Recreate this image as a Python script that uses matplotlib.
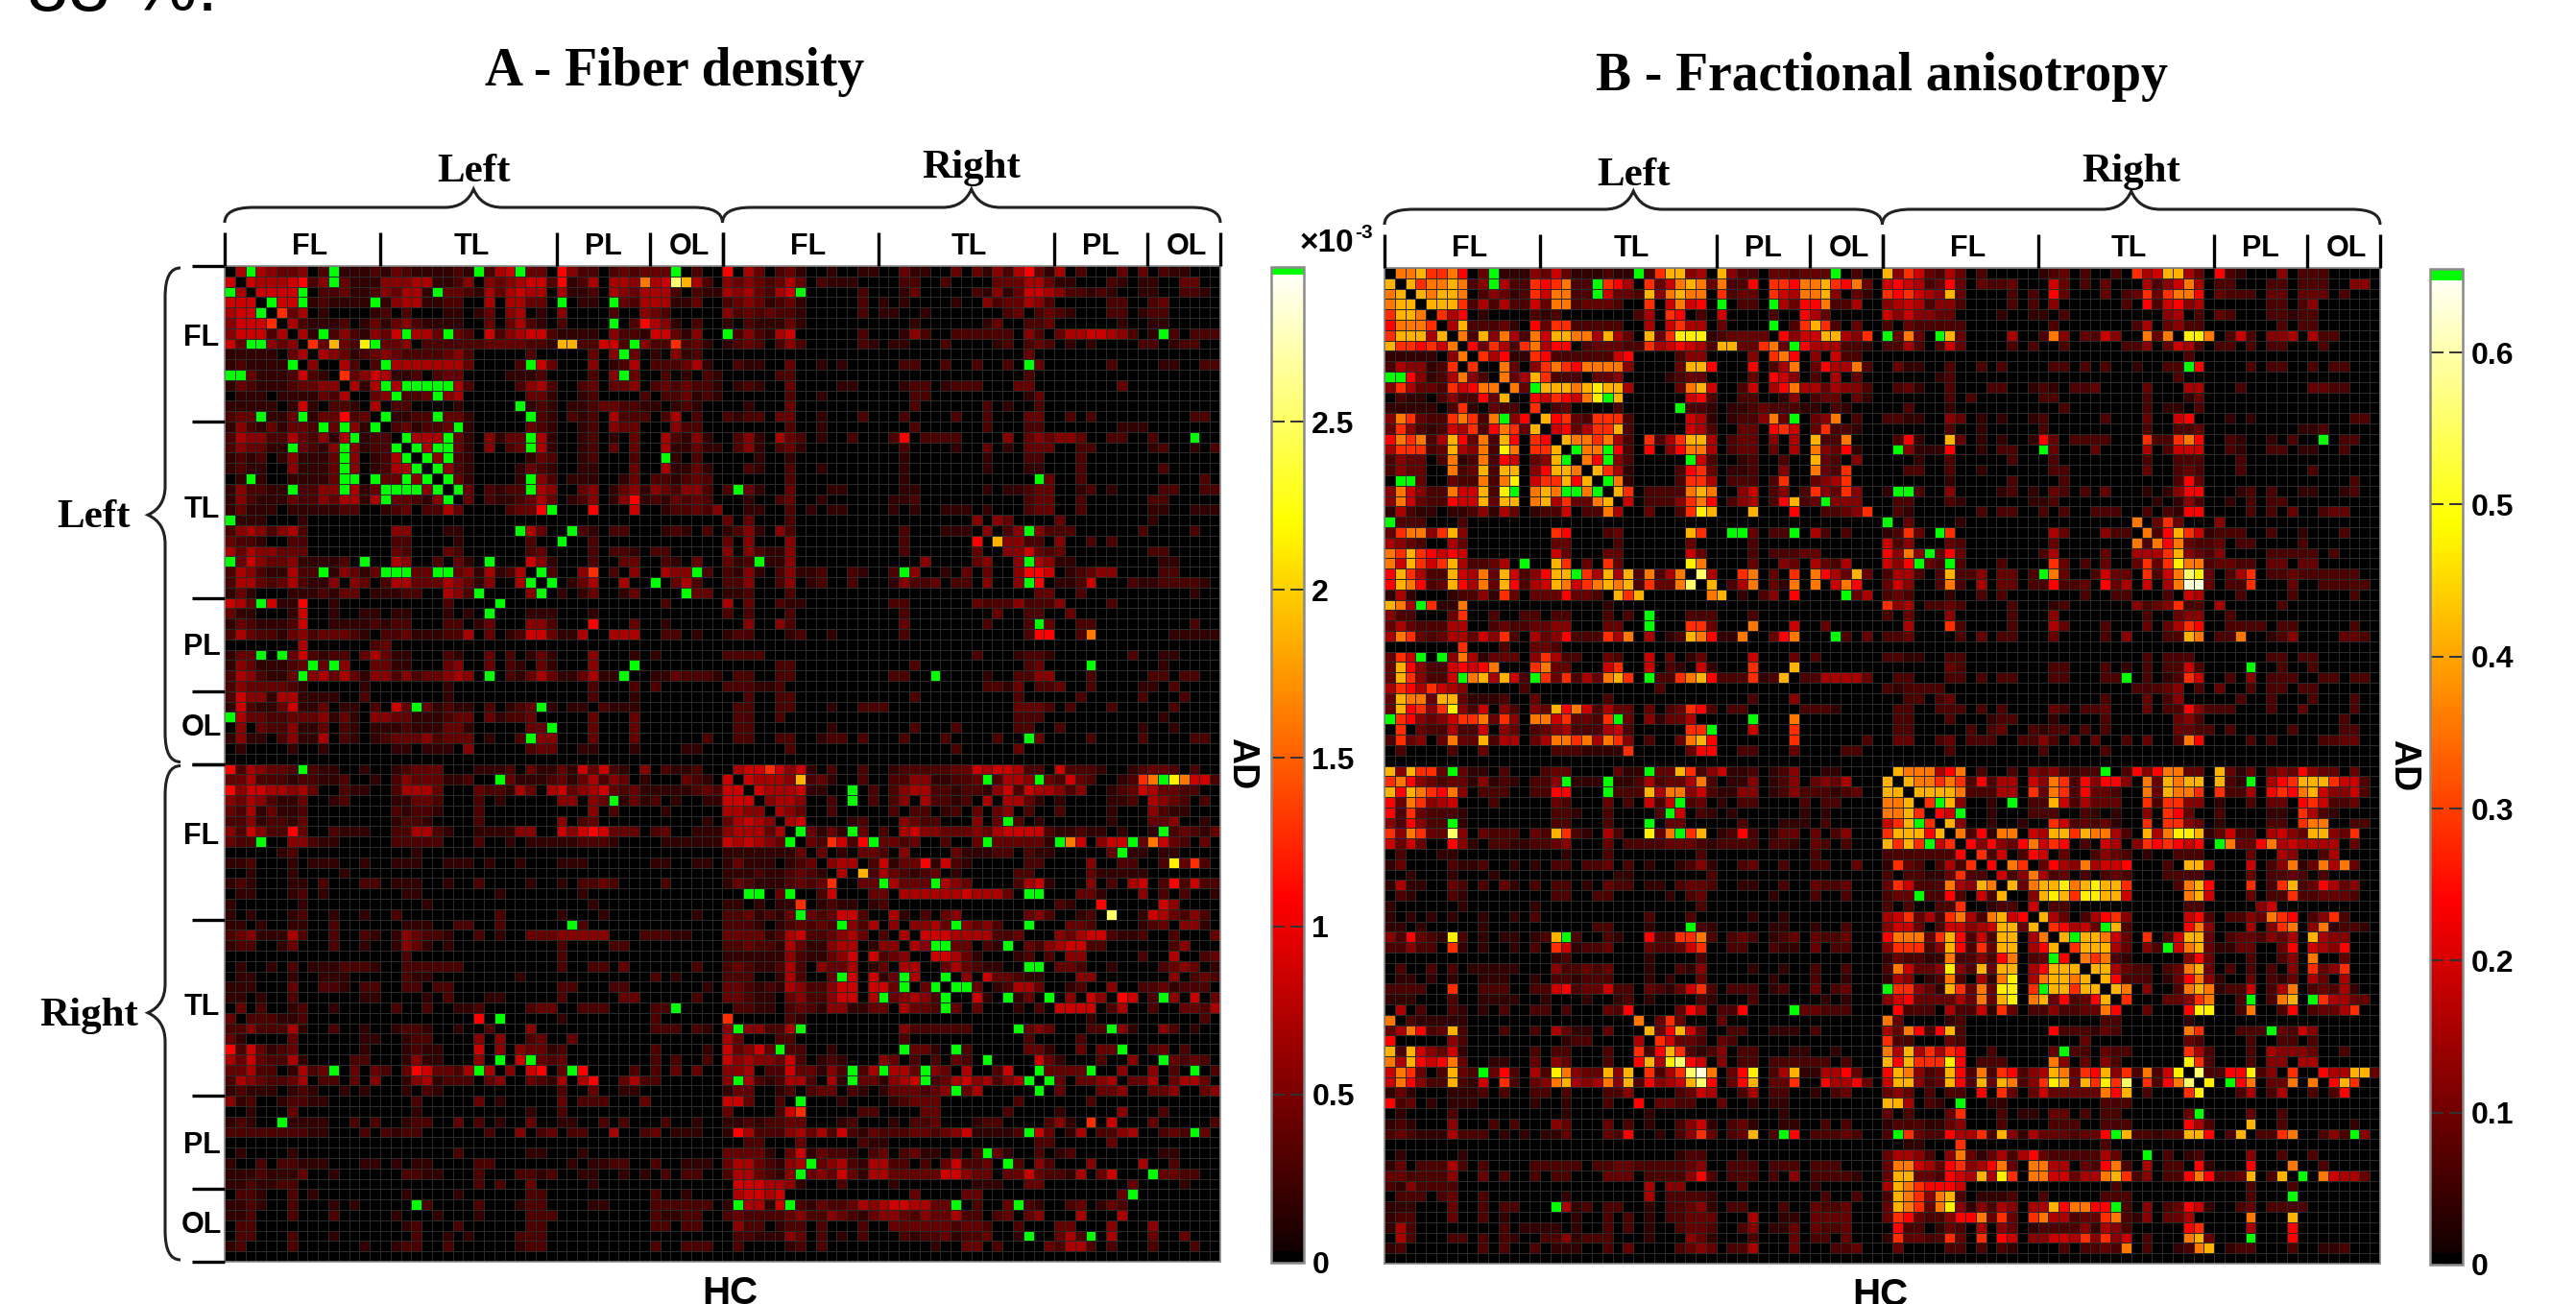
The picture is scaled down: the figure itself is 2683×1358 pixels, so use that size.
import numpy as np
import matplotlib
matplotlib.use("Agg")
import matplotlib.pyplot as plt
from matplotlib.colors import ListedColormap, Normalize
from matplotlib.cm import ScalarMappable
from matplotlib.path import Path
from matplotlib.patches import PathPatch

W, H = 2683, 1358

# Cell levels: 0 black, 1-6 dark to strong red, 7 pure red,
# 8 red-orange, 9 orange, a amber, b yellow, c pale yellow, d near white, G green.
A_TL = """
05G54334 02G11121 32111121 G256G330 74220232 333G0200
60655567 24G31114 44551124 04345662 71250554 956ca520
G506666G 02231124 3551G332 15356550 51120543 55520211
6660G66G 121111G1 45511220 05055330 G0110G32 55511300
566G0835 01000012 02000110 13045010 40000200 43200000
46668052 11120131 34211110 03035210 20000G02 75410200
46662505 1G242143 6G553G32 06245662 11110422 16631400
63GG4340 83a32bG3 34022222 23333221 aa22662G 42282310
11111035 05431234 32222342 00000200 000304G3 01041200
121111G0 4005202G 55555553 00002G63 00040125 02223510
GG311126 21083465 11202330 00011120 000204G3 00201021
13211123 3440515G 5GGGGG52 00002452 00230334 02323221
01110111 13250034 G223G450 00000331 00120000 20223121
11111016 10221050 22000010 0000G121 01123322 11012100
233G113G 1337230G 1122G331 00000G21 02120522 20250200
14213133 2G3G41G0 231223G1 00000321 00120433 00042200
25442253 2415G122 0G555G31 04133G51 00120103 00521410
243311G3 214G4122 G0G5GG31 04023G51 00120303 00511311
12120141 113G4012 5G0G4G21 00000132 00120002 00G10200
12110041 113G4012 55G0G421 00001321 00110003 00511310
01G10011 113GG0G3 3G4G0G31 00001G42 01110013 02212320
142211G2 244G513G GGG4G0G3 02122G54 00340134 14324420
14211132 2435515G 33214G03 02112353 01240147 12132320
13111011 11122001 23022530 0002337G 00070006 00122324
G1110001 00000000 00000000 00000000 00000000 00000000
24542452 00000000 44000110 0000G530 0G210220 00121020
32210022 00000000 22000010 00000200 G0020000 00000000
53544333 00000000 32000320 00000230 00020221 02200000
G3643341 11120G00 54002031 0G000641 00020033 00210300
25421152 2G14313G GG33GG34 151250G2 00480204 00544G20
25532352 11404302 55333543 14005G0G 01350050 0G035200
13100011 12133011 12200542 G00004G0 10130013 0000G330
653G6117 00100000 00000200 00G00000 00000000 00200000
31100016 00100110 11000101 0G000111 00010000 00000000
13211126 00111121 22000220 13000442 00070003 00100000
25322134 23332102 23111225 03012663 11500555 00220100
00000005 00000023 00000000 00000000 00000000 00000000
133G0G36 21220353 11000210 03020131 00040001 01000000
14311123 G3G40033 11000340 03021031 0004000G 00000000
2542113G 45353144 24233454 0G021353 113511G0 01132221
24333321 00000100 00000100 00000000 00020002 02000000
26441551 11100200 00000100 00000000 00020001 00000000
16211361 13011020 63G31211 020123G1 01102111 00000000
G5332233 34131044 33111233 03122300 00030003 00000000
04032241 13021011 12111331 0000033G 00030003 00000000
14110241 15021012 33342333 01002G44 00030003 00000020
01000010 01000000 11011104 00000233 00110001 00001100
00000000 00000000 00000000 00000000 00000000 00000000
"""

A_TR = """
70530231 00100110 03110030 31425731 50200030 30211000
43432353 02111000 02200200 00333553 11000210 11003300
5453256G 00000200 01300000 21413665 42212100 11002210
23431231 00000201 01000010 04233542 00000220 02300000
42323221 00000201 10010000 00023023 21000220 12200000
10211131 00000000 00100000 01300223 00000010 01100000
G2421560 00000200 01420022 22220420 35566542 01G20222
12320242 00000210 11000200 00120232 01010000 22012200
00000000 00000000 00000000 00000300 00000000 00000000
02110030 01010000 02200200 20020G30 00000200 00110022
00000220 00000000 00000000 00000200 00000000 00000000
01210030 00011000 01220122 20003300 00000030 00000000
00000020 01000000 00220000 00000130 00000000 00000000
00100030 00000000 00200000 02010020 00000000 00000000
21220330 01000200 02000020 02000330 02020000 00000220
00000020 01000000 00200000 02000220 00000011 10000000
02410532 01002000 27022220 00040343 44300220 02000G00
02410231 00000000 02000010 03010333 00220000 01200102
00010010 00000000 01000000 01000220 00200000 00000000
00210020 01000000 01000000 01000110 00200000 00200000
00000020 00000000 01000000 000000G3 00200000 00000020
2G310030 00110000 01100000 01011233 00120100 00220022
00100230 01000000 11200000 00000233 00200000 02200000
00110020 10110000 10100111 01000233 00200000 01100111
30300020 00000000 00000000 40430000 30000000 01000000
12410420 00000000 02000111 04024G42 22000000 20000200
30400040 00000000 02000000 70a44220 40020200 00000000
40421140 00000000 02000000 30044632 30000000 02200000
312G1140 00000000 00040000 34004G54 11000000 00110000
21410241 12002100 2G400103 03004776 01234400 00220000
22400240 12002000 14223022 04004G70 11260002 11222210
11200020 00000000 00000000 00000033 00200000 00000100
50300211 00000000 22000000 32224222 40000200 00000000
20200020 00000000 02000000 00300220 03000000 00000000
00400420 00000000 03000000 020002G3 00220000 00000200
12200012 00100000 02000000 00000277 00290000 00011111
00000000 00000000 00000000 00000000 00000000 00000000
22220000 00000000 00000000 20001221 00000002 00110000
00000220 00000000 00200000 00000230 000G0000 00100000
02200220 00000000 2200G000 01002244 00020000 02202200
22211200 00000000 00000000 02213022 30020000 11020000
00200220 00000000 00200000 00002000 00200000 20002000
02200220 00100222 00000000 00003332 02000200 00020000
02200200 00000000 00000000 00002220 00000000 00100000
02200000 00100000 00200020 00002200 20000000 10010000
02200220 01220200 02000200 00200G30 00020000 20000220
00000020 00000000 00000020 00003000 00000000 00000000
00000000 00000000 00000000 00000000 00000000 00000000
"""

A_BL = """
7254332G 21100100 12333000 11120311 31636210 40211200
33522212 21120010 24333112 00G31112 31352430 10003210
74665545 30021100 25553000 32215305 63456323 11111232
43542113 00120000 11332000 20100000 44043G13 12010011
32513112 00000000 21221000 20000000 00040200 00100000
22412213 00000000 12210000 20000000 40230000 00000010
42642273 00211100 22552100 11114400 64676333 02300111
322G0044 21100000 22222000 20010111 11222100 00111111
00000120 00000000 00100000 00000000 00000000 00000000
11200010 11100100 11100111 01001000 11100000 01100110
00100010 00010000 00000000 00000000 00000000 00000000
12100011 02000220 11100100 20000100 10223200 00200000
01100012 01000000 01100000 00100000 00100000 00000000
10000001 00000000 00010000 00000000 00010000 00000000
10100012 00100100 20000000 00200000 10001000 00000100
11010011 00200000 01110022 00200000 0G200000 00000000
23411152 00200210 14322100 20100333 44444000 22211000
12200130 00200100 14310100 00000000 20000220 00000000
00000000 00000000 02000000 00000000 20000000 00000000
01001020 11122210 02222220 00000000 20022030 00000200
01100010 01110000 02110000 00001000 00000000 02010000
11100030 02210220 02202200 00000000 22000220 00000010
11010020 00000110 00010200 01100000 20000033 00000200
03020012 00100000 20020011 20000233 00222000 022G0000
30222112 00000000 00000000 70G00000 10000000 02000000
22422251 00200100 12210010 02000400 00000000 02220210
31000030 00000110 01220000 40400230 03000000 00000000
72631230 00000100 01211000 60404331 20000000 02000010
53632251 00002200 01411000 40G06G32 30000000 02020020
33522015 23G03032 03763325 G5040670 3G700002 02030300
25432235 02203040 01451222 03400321 50570035 22000000
12111012 10010100 01021000 00000000 20030011 00000000
41200122 11000000 00200000 30100000 30222000 30000000
00100030 00000000 00100000 00000100 20000000 00000000
12100G11 11002020 01220030 20100300 11002020 00200100
22222222 11000202 12200000 02004023 02200500 23011100
00000000 00000000 00000000 00000000 00000000 00000000
01000010 00000000 00000020 00000110 00100000 00000000
10020221 11000110 10110000 22000000 01011220 02001110
11121113 00100000 02211000 20002212 00110010 10202200
11211220 00000000 00000000 20200300 00010000 00000000
02210020 10000000 01000010 00000220 00000000 02001000
11210020 00101000 00G20000 20001220 00011000 02222220
11200020 00200000 10001000 10000222 00000000 02112200
02200000 00000000 01200020 00000220 00000000 02202200
02200020 00100000 00200101 00002220 00000000 00000000
12000020 00000100 12200200 00001220 00000000 02002220
00000000 00000000 00000000 00000000 00000000 00000000
"""

A_BR = """
05665847 10200200 12222233 75665220 72221001 23320200
60655549 23100200 22441122 3G25545G 27320012 459aGba2
66065557 1100G020 24552212 21462655 42400123 65332200
66604554 0020G020 24052212 05055310 10000112 05432020
55440543 00200000 20220120 30340200 20000100 04211000
35654056 00001200 04322000 40G52010 00000100 03340010
45553507 G1311G02 05644333 43566662 11211010 0132G213
65654306 G2082073 G2300200 G3333331 0G904662 G5932030
11111113 03010G32 04000031 11220211 00000G21 10110000
13111012 30455027 13321721 00000220 00040022 002c3820
11121123 21150925 32123010 00002200 00031111 10000000
13211123 23070G32 533G4543 00002561 00040205 60222722
00GG0G20 02600033 05555556 55530000 00GG1000 40202001
11010118 01211012 00000000 00000000 21000000 00740000
22312135 G2366240 51020340 00000342 00120000 1c532420
22210123 232G4252 40445354 G4200000 0G320000 12304410
33331256 22345G02 25066655 55223000 43566211 20020003
22322153 11455014 40544GG3 02100G24 56622000 00024000
11111142 11346062 34506653 10001202 04400000 20050023
23211252 04335013 05540G53 21100000 GG200100 00234301
22200152 003G6061 30500G04 06G32110 00440000 00040232
33212154 22466066 3G0GGGG0 30125530 01200400 22312220
33211034 22466052 G45423G0 61021G00 040640G0 02040603
02211023 21441133 0533233G 30001020 66600250 02003325
80000021 00000000 00000000 00000000 00010000 00000020
4G442252 00000000 04222222 00000G43 00022G41 00420100
53000220 00000000 02000000 00200200 00200000 00000000
63463G22 00100000 00G310G2 00000331 00303G20 02302000
64544362 01210004 30202032 0G000063 10002004 00032G20
44502263 3142G25G 55G24305 00270G03 33G10040 04020402
4G521255 20515G31 45662G56 45245660 G0334503 35035530
13300120 23302101 3332344G 50000040 G0003340 03340034
7630020G 00010000 12333000 00002000 00020000 00000000
30000289 00000220 00033000 00020000 13000040 00200000
11212233 00012000 10223000 12200002 41000700 03000002
17522245 35272132 22332346 11112G63 01502245 00232G30
00220003 00000211 00000000 00000022 00000300 00000000
33331037 13221023 02311020 22G10020 12000300 00110000
35532145 G3452155 22020362 230G2042 00040000 50020000
25532145 G4363155 33333664 33033632 2150360G 06332200
06665541 00020000 10000000 11100330 00000003 00001000
05665600 00000000 00G00003 30000000 000000G0 00000000
1G5516G2 13223545 66553G20 200G3210 02301320 00000000
23222234 22432134 43243352 20230340 00500050 00000000
04220122 02000200 33333323 32002000 33000400 04000000
02211143 02010200 02122312 23001000 G5200500 0G003000
02000012 02000000 00001003 30200003 25520200 02000200
00000000 00000000 00000000 00000000 00000000 00000000
"""

# Exact positions (row, column) of the green cells in the lower-right block of panel A
A_BR_GREEN = [(1, 25), (1, 30), (1, 42), (2, 12), (3, 12), (5, 27), (6, 7), (6, 12), (6, 42), (7, 6), (7, 14),
              (7, 25), (7, 32), (7, 39), (8, 38), (11, 15), (11, 20), (12, 2), (12, 3), (12, 6), (12, 29), (12, 30),
              (14, 7), (15, 11), (15, 22), (15, 29), (17, 20), (17, 21), (17, 27), (19, 29), (19, 30), (20, 11),
              (20, 17), (21, 17), (20, 21), (21, 20), (21, 22), (21, 23), (22, 15), (22, 21), (22, 27), (22, 31),
              (22, 42), (23, 21), (25, 1), (25, 7), (25, 28), (25, 37), (27, 5), (27, 17), (27, 22), (27, 38),
              (28, 25), (28, 42), (29, 12), (30, 12), (29, 15), (29, 19), (30, 19), (29, 30), (29, 35), (29, 45),
              (30, 1), (30, 29), (30, 31), (31, 22), (31, 30), (32, 7), (35, 29), (35, 45), (37, 25), (38, 8),
              (38, 27), (39, 7), (39, 41), (41, 39), (42, 1), (42, 6), (42, 22), (42, 28), (45, 29), (45, 35)]
# Bright cells (row, column, level) of the same block
A_BR_HOT = [(0, 4, "8"), (1, 7, "a"), (1, 40, "8"), (1, 41, "9"), (1, 43, "b"), (1, 44, "9"), (7, 10, "8"),
            (7, 13, "7"), (7, 33, "9"), (7, 41, "9"), (9, 19, "7"), (9, 43, "b"), (9, 45, "8"), (10, 13, "a"),
            (11, 10, "8"), (11, 43, "7"), (13, 7, "8"), (13, 36, "7"), (14, 37, "c"), (22, 38, "7"), (22, 39, "6"),
            (23, 35, "6"), (24, 0, "8"), (32, 0, "6"), (32, 1, "6"), (33, 7, "8"), (34, 35, "8"), (35, 1, "7")]

B_TL = """
099a8897 03G11143 63111211 G28aa450 a4220332 333G0200
a0a899a9 24G52287 8922G875 08369a93 92270887 99a87930
9a0a9aa9 02431286 9922G633 2a49a990 82330865 99a40310
9aa0aaa8 25252263 99233320 08069670 G0220G53 77922500
8aa90857 01000021 20000000 25087020 60000200 75300000
7999805a 22231073 88222220 05068550 30000G02 8a820300
8aaa5a09 2a495296 aa995a53 0a38bbb1 23333074 66aa5480
a8878690 73852895 77023332 28567652 aa33893G 75552210
11111049 08571187 22222267 00002440 00040897 04062200
25441280 80093048 98799994 00003aa7 00070259 03755920
GG741259 420935a8 22203340 00012330 00030764 02050300
48533286 799093Ga aa9abaa5 000039a6 00260579 55354420
02110242 273a0076 8769bGa0 00000672 00220014 02330310
11111028 10322080 23000020 0000G221 01123222 11021000
49832289 829G470a 78328882 00000651 012249 3G 03490200
38421265 827983a0 67358 8a2 00000652 00330786 03822100
798925a7 392a7087 0a998952 08258aa5 02330405 0a229000
58882 3a5 492b9088 a0G99G72 07047995 02330305 09437100
24330291 29276034 aG097G42 00000G62 00120020 0a320400
24330092 3a2aa047 aa90a851 00002783 01120040 09328000
0GG30032 2929b068 8a7a0G91 00002885 02220280 03458000
49642296 6a2bG09a 9GG9G0a8 022229a9 00460240 28438400
49632276 6a3aa09a 58339a06 02224897 0245027a 23G44400
15211011 24153012 26022950 030028ba 000a0007 00223480
G2220002 00000000 00000000 00000000 00000000 00000000
389948a4 00000000 87000230 00000a80 0GG3022G 05202000
54320053 00000000 33000020 00000300 00020000 00000000
98a87676 00000000 63000330 00000630 00020222 33000000
96a868a5 22350G00 a8030830 00000b90 00030043 05325000
7a8522a6 593a6247 aaG85a5a 29259 0c5 00890308 09753a30
7a9723a7 593a7256 a9689a9a 28339c0a 02590319 09069700
15100012 24183033 373320a8 a0000009 a0102407 0000G350
a95G8119 00000000 00000100 00000000 00000000 00000000
42200038 00200220 22000202 0G000222 00020000 00000000
35322255 00232233 44000330 0G000883 00090006 00300000
59832355 36482053 47222859 05012a97 11900379 000G2030
00000008 00020033 20000000 00000000 00000000 00000000
386G0G49 51333048 52200320 06030130 00060003 02000000
3a742267 67900089 33000680 06021061 0008000a 00000000
3a84226G 9a5a62G8 38253 9a8 0G2289a7 2228 12a0 22555530
58758654 00000200 00000000 00200000 00000000 00000000
3a993aa3 11120030 00000200 00000000 00020004 00000000
3a7848b4 26042043 a7962533 03023872 02200000 22210000
G8743468 89384099 6833 28G3 04133500 000G0009 00000000
08032252 26043023 45222562 00000 88G 00060008 00000000
28340393 3a255035 99895984 02003 9a7 00000008 00000020
02000020 03000000 22211118 00000377 00220003 00002200
00000000 00000000 00000000 00000000 00000000 00000000
"""

B_TR = """
a4863253 02000001 23020020 856aa530 72100040 22200000
67652373 03223000 63020300 05246950 22000220 22200440
87865 4a3 00002020 73000302 38389970 32220330 33302000
45652442 00002020 40000002 07267450 00000220 24000000
64644330 00010011 02000000 00045020 32000221 22000000
20322222 00000000 20000000 25034220 00000020 22000000
G393 0Ga3 00005002 94032640 09390bb9 02620445 05220000
22520263 00002020 02000002 24036520 22020220 00200000
00000000 00000000 00000000 00000200 00000000 00000000
03110020 02020000 22020200 10022G70 00020220 02022000
00000120 00000000 00000000 00002000 00000000 00000000
02310020 00220012 10223000 03000550 00200000 03322000
00000020 20000002 20000000 02000130 00000000 00000000
00200010 00000000 02000000 02011020 00000000 00000000
22110043 01010012 00000200 03006700 01010000 00000220
00000020 01000002 00000000 02002230 00000000 11200000
0271 00a3 01010017 30222200 08228970 02100102 00G02200
0G411170 01022 00G 30003000 05026660 02100220 11002000
00010020 00002000 20000000 02002220 00200000 00000000
00220020 01000000 22000000 03002320 00200000 02000000
00000010 00002000 02000000 00002730 00000000 00000200
1GG20040 00012010 32020300 01014770 00120200 11001200
02200021 00000011 20000000 00101420 01020220 00000000
02100000 02022002 02002220 02021770 00020203 00233000
G0300001 00000000 00000000 90383000 40000000 00000000
12830G80 00000000 53000422 09 27a861 22200200 10002000
62400032 00000000 30000000 92979322 30220000 20000000
7494G373 00000002 50000300 5558a432 40000222 22020000
647G32G2 00020000 83020300 3838b992 33220330 33000000
2552 02a2 24033 02G 93002633 08269cb3 02580223 22222200
36400292 05033022 72230735 06059dd3 02280003 00222220
23200010 02020000 00020022 00020650 00200002 00000200
84502232 00002000 12000000 42348220 50000020 00000000
20300040 00002000 40000000 02003440 02000000 00000000
00500082 00002000 53000200 03035870 02222022 00000200
22300002 03022000 30000204 00022a90 22900124 00003320
00000000 00000000 00000000 00000000 00000000 00000000
22110022 00000000 00000000 02022200 00000220 22000000
00000032 00000000 22000201 02022620 000G0020 02000000
02200022 02022000 2200022G 02012860 02040222 00220220
21222200 00000000 00000000 22234020 30020220 22000000
00220230 00000000 00000200 03024000 00200200 02000200
02200222 02020000 32022300 03022742 22000200 30000200
02200020 00122000 10000200 00003420 00000000 00002000
02200000 20230021 22020200 00003322 02000002 00002200
03300230 22200224 20303002 03002970 00020200 00223300
00000020 00000002 00000200 00000000 00000000 00000000
00000000 00000000 00000000 00000000 00000000 00000000
"""

B_BL = """
a4a883G3 11020002 33000031 1G33a824 61120124 00110000
89743233 14121022 4G111G11 25233592 01140124 03435000
a7a98794 02220022 77000G22 2a599462 11440124 22212300
73984560 00200000 32000302 0626G230 10220000 20220000
72832221 00000000 22100200 002G6021 01000000 10100000
4274 22G1 00000000 22000200 0G033000 00200011 10200000
8498 33c4 03222032 a8210520 0b39G8a0 12720133 03024000
63630074 10221122 34000302 22233321 22220221 03202000
02000110 00000000 01000200 00000020 00000000 02000000
13000021 12001010 22022302 01001241 00230020 02200300
00100010 00100000 00000011 00000002 00000000 00000000
15110032 02031020 22010322 01102332 00110020 03223000
02100021 00000000 22002200 00010230 00000100 02002000
10000001 00000010 00000000 00000020 00000000 00000000
10101010 01001020 00000000 02000200 00010010 00000000
11010000 01000000 00002200 01000G21 00000110 01002000
427321b2 01011012 aG200210 07228892 02320123 03223000
22422081 01001020 86122300 03223680 02200211 03022000
00000000 00000000 12000000 01000020 00000000 00000000
02002020 11111000 42232300 01002140 00010010 02002000
01101010 01110010 22122200 01010030 00000100 02001000
22220080 02220022 67233622 03213682 02220120 03023000
11100020 01111001 00010012 01000021 00020000 00101000
05020021 01020022 02000327 00003750 2270000G 33222000
90211111 00000000 00000000 90383000 30000000 00000000
359723a2 00020020 53110300 0a37a630 02200111 02000000
70000042 00000000 01220000 50863320 32000000 00000000
a2a64361 00000020 22000200 827a8212 40220001 10010000
95a76793 00110030 43000200 7a5bc760 40220222 22202000
6983 02a3 2G372052 b9433a4a 08258cd9 037b025a 11557300
6974 22a2 16082034 9a54594a 27456ac7 037a0338 00755730
13100011 12020022 02000224 00002365 00250220 01023000
72301011 10000010 01000200 70332200 30010110 00000000
01000020 00000000 01000000 01000000 00000010 00000000
12100040 00202000 43000302 01002461 02310011 00202000
23211152 22010101 13000327 00102483 023a02G7 02223200
00000000 00000000 00000000 00000000 00000000 00000000
01000001 00000000 00000000 00001220 00100000 00000000
13022252 02000022 22202233 22222340 02220222 02220000
33222240 03020020 22000333 02222472 02220204 02222100
21422220 00000000 00000000 05044000 00200000 01000000
02220230 02000000 01000000 05022221 00000000 00200200
11100030 02022000 G5120220 01022341 02200020 03223000
12200030 02010000 00100202 01022333 00050011 03333000
15200000 00020111 10100202 01002332 00240113 03223000
05200022 02021002 24122200 01000431 00020003 02203000
12000000 02020020 11100203 00002343 02250003 00022300
00000000 00000000 00000000 00000000 00000000 00000000
"""

B_BR = """
0a999579 02002043 42122G02 74799330 a3130343 74330300
a0a99898 27255064 98274774 093a9aa0 a21G0578 aaa86620
aa0aaaa9 22255083 98273320 093a9980 82250787 9a644620
99a08Ga4 0010G022 a6253330 08288440 10020330 78622300
99a8076G 00100022 20021010 04087300 20000110 85210000
68aG80a4 00100100 86232310 08088430 10000220 89900220
8aaa7a09 27199065 aa8a9952 0a59bba1 36220564 3aa43800
a8a8G680 74743796 87020650 48787670 G9337956 55550300
22222227 08260276 03002432 01002220 00030054 00250000
18320252 80709803 75495667 00020aa5 00060249 13959300
20221138 22062495 23020232 00022220 00030223 20200000
38622295 4a90a39a ab9abaa8 000029a7 0008028a 23753400
233G2272 062a004a ba8bbaa6 000009a6 00030228 22333200
20200228 00122060 22000000 00000220 00004600 00000000
56835289 529a670a 53025784 00000672 02243987 02482000
46630266 456aa3a0 87563Ga2 00000794 00050489 04912210
799938a7 262aa059 0aGaa963 08026aa3 02332435 0a544000
488824a7 283aa057 a08aaa53 042G69a3 11330037 06547000
13221192 24279023 G7098921 00000473 00020024 09003000
296334b4 2a3aa057 aaa0aa53 220239a3 02020204 08348000
15401292 0519b059 aa9a0a72 22013794 10030213 05305000
G88431a8 393bb08G aa8aa0a9 040029a9 12260259 02325100
46733335 393ab09a 37237a08 00033489 002G029a 0G855330
07222052 26183022 42233970 030007bb 00290027 02335800
93000012 00000000 00000220 00000100 00000000 00000000
539727a2 00000000 72221320 00000980 00222G32 64000000
82200032 00000000 00030000 00000320 00020022 02000000
95a58587 00200000 3G220322 00000852 00020544 43002000
a7a888b7 02220000 94030420 00000b82 00020440 55000000
7a9423a7 29287245 a9387a48 2926b0c2 277b2408 00755aa3
6aa423a7 2a3a9248 ba3a8b8c 08279c0b 0G790339 0907a800
34302022 07083036 3333397a 020008b0 00250250 02027000
aa50210G 00110000 00000222 00000000 00000000 00000000
30200038 00020110 33020220 000003G0 00030020 00000000
12221134 00020000 22200222 00000752 000a0020 00000100
2G832275 582a4153 332337Ga 22122aa7 02a02289 00242G40
00110008 00000000 00000200 00000000 00000000 00000000
35542049 31352573 22222530 0G020120 00040020 02000000
39965378 45793099 55032792 05022071 00070009 00200000
3aa33276 5a5b8099 663559a8 24022797 223a02a0 G0965530
5a987776 00000000 00000020 00000000 00020002 00000000
2a9849a2 01112002 00000222 00000000 0002000G 00000000
3a9839b4 14254055 a79977G2 04023761 00230222 20000000
38732247 79383089 55233892 14033500 0009000a 00000000
07220132 05043012 22241542 00000780 00050007 00000000
18332283 08076044 66584846 02000 9a3 000G0007 00000000
03000022 02021000 02022329 02001 29a 01220002 00112000
00000000 00000000 00000000 00000000 00000000 00000000
"""

LEVELS = {"0": 0.0, "1": 0.06, "2": 0.10, "3": 0.14, "4": 0.19, "5": 0.24, "6": 0.29,
          "7": 0.365, "8": 0.43, "9": 0.54, "a": 0.63, "b": 0.72, "c": 0.85, "d": 0.96, "G": 1.0}

A_TICKS = [0, 0.5, 1, 1.5, 2, 2.5]
A_TICKLABELS = ["0", "0.5", "1", "1.5", "2", "2.5"]
A_VMAX = 2.96
B_TICKS = [0, 0.1, 0.2, 0.3, 0.4, 0.5, 0.6]
B_TICKLABELS = ["0", "0.1", "0.2", "0.3", "0.4", "0.5", "0.6"]
B_VMAX = 0.655

LOBE_EDGES = [0, 15, 32, 41, 48]
LOBE_NAMES = ["FL", "TL", "PL", "OL"]
# Small offsets of the printed lobe names, as seen in the picture
TOP_NAME_SHIFT = [8, 3, 0, 3]
LEFT_NAME_SHIFT = [-6, 0, 3, 0]


def parse(block):
    rows = [ln.replace(" ", "") for ln in block.strip().splitlines()]
    rows = (rows + ["0" * 48] * 48)[:48]
    return np.array([[LEVELS.get(c, 0.0) for c in r.ljust(48, "0")[:48]] for r in rows])


def parse_a_br():
    m = parse(A_BR)
    m[m >= 1.0] = LEVELS["3"]
    m[m > LEVELS["6"]] = LEVELS["6"]
    for r, c, lev in A_BR_HOT:
        m[r, c] = LEVELS[lev]
    for r, c in A_BR_GREEN:
        m[r, c] = 1.0
    for i in range(48):
        m[i, i] = 0.0
    return m


def make_cmap(green_frac):
    base = plt.get_cmap("hot")(np.linspace(0, 1, 512))
    base[0:6] = (0, 0, 0, 1)
    base[int(round((1 - green_frac) * 512)):] = (0, 1, 0, 1)
    return ListedColormap(base)


fig = plt.figure(figsize=(W / 100, H / 100), dpi=100, facecolor="white")


def px_axes(x0, y0, x1, y1, **kw):
    return fig.add_axes([x0 / W, 1 - y1 / H, (x1 - x0) / W, (y1 - y0) / H], **kw)


ov = px_axes(0, 0, W, H)
ov.set_xlim(0, W)
ov.set_ylim(H, 0)
ov.axis("off")
ov.set_zorder(5)

SANS = "Liberation Sans"
SERIF = "Liberation Serif"
CURVE = [Path.MOVETO, Path.CURVE3, Path.CURVE3, Path.LINETO, Path.CURVE3, Path.CURVE3,
         Path.CURVE3, Path.CURVE3, Path.LINETO, Path.CURVE3, Path.CURVE3]


def hbrace(xa, xb, ybase, yline, ytip):
    xm = (xa + xb) / 2
    v = [(xa, ybase), (xa, yline), (xa + 30, yline), (xm - 30, yline), (xm - 8, yline), (xm, ytip),
         (xm + 8, yline), (xm + 30, yline), (xb - 30, yline), (xb, yline), (xb, ybase)]
    ov.add_patch(PathPatch(Path(v, CURVE), fc="none", ec="#222222", lw=2.2))


def vbrace(ya, yb, xbase, xline, xtip):
    ym = (ya + yb) / 2
    v = [(xbase, ya), (xline, ya), (xline, ya + 30), (xline, ym - 30), (xline, ym - 8), (xtip, ym),
         (xline, ym + 8), (xline, ym + 30), (xline, yb - 30), (xline, yb), (xbase, yb)]
    ov.add_patch(PathPatch(Path(v, CURVE), fc="none", ec="#222222", lw=2.2))


def panel(data, x0, y0, x1, y1, vmax, ticks, ticklabels, green_frac, title, title_xy,
          cb_x0, cb_x1, left_side, hem_y, ad_x, hc_xy):
    cmap = make_cmap(green_frac)
    ax = px_axes(x0, y0, x1, y1)
    ax.pcolormesh(np.arange(97), np.arange(97), data * vmax, cmap=cmap, vmin=0, vmax=vmax,
                  edgecolors="#2b2b2b", linewidth=0.7, antialiased=True)
    ax.set_xlim(0, 96)
    ax.set_ylim(96, 0)
    ax.set_xticks([])
    ax.set_yticks([])
    for s in ax.spines.values():
        s.set_color("#8a8a8a")
        s.set_linewidth(1.2)

    cell = (x1 - x0) / 96
    ov.text(title_xy[0], title_xy[1], title, family=SERIF, weight="bold", fontsize=40,
            ha="center", va="center", color="black")

    for hem in (0, 1):
        offs = 48 * hem
        for k, e in enumerate(LOBE_EDGES):
            xx = x0 + (e + offs) * cell
            ov.plot([xx, xx], [y0 - 35, y0], color="black", lw=2.4, solid_capstyle="butt")
            if k < 4:
                xc = x0 + (e + LOBE_EDGES[k + 1]) / 2 * cell + offs * cell + TOP_NAME_SHIFT[k]
                ov.text(xc, y0 - 20, LOBE_NAMES[k], family=SANS, weight="bold", fontsize=22,
                        ha="center", va="center", color="black")
        hbrace(x0 + offs * cell, x0 + (offs + 48) * cell, y0 - 45, y0 - 61, y0 - 80)
        ov.text(x0 + (offs + 24) * cell, hem_y[hem], ["Left", "Right"][hem], family=SERIF,
                weight="bold", fontsize=31, ha="center", va="center", color="black")

        if left_side:
            for k, e in enumerate(LOBE_EDGES):
                yy = y0 + (e + offs) * cell
                ov.plot([x0 - 34, x0], [yy, yy], color="black", lw=2.4, solid_capstyle="butt")
                if k < 4:
                    yc = y0 + ((e + LOBE_EDGES[k + 1]) / 2 + offs) * cell + LEFT_NAME_SHIFT[k]
                    ov.text(x0 - 24, yc, LOBE_NAMES[k], family=SANS, weight="bold", fontsize=22,
                            ha="center", va="center", color="black")
            ya, yb = y0 + offs * cell, y0 + (offs + 48) * cell
            vbrace(ya + 2, yb - 2, x0 - 46, x0 - 62, x0 - 80)
            ov.text(x0 - 136 if hem == 0 else x0 - 141, (ya + yb) / 2 + 3, ["Left", "Right"][hem],
                    family=SERIF, weight="bold", fontsize=31, ha="center", va="center", color="black")

    ov.text(ad_x, (y0 + y1) / 2, "AD", family=SANS, weight="bold", fontsize=27, rotation=-90,
            ha="center", va="center", color="black")
    ov.text(hc_xy[0], hc_xy[1], "HC", family=SANS, weight="bold", fontsize=29,
            ha="center", va="center", color="black")

    cax = px_axes(cb_x0, y0 + 1, cb_x1, y1 + 1)
    sm = ScalarMappable(norm=Normalize(0, vmax), cmap=cmap)
    cb = fig.colorbar(sm, cax=cax, ticks=ticks)
    cb.set_ticklabels(ticklabels)
    cb.outline.set_edgecolor("#8a8a8a")
    cb.outline.set_linewidth(1.8)
    cax.tick_params(axis="y", direction="in", length=10, width=1.4, color="#333333", left=True, right=True,
                    labelsize=23, pad=6)
    for t in cax.get_yticklabels():
        t.set_fontfamily(SANS)
        t.set_fontweight("bold")


A_DATA = np.block([[parse(A_TL), parse(A_TR)], [parse(A_BL), parse_a_br()]])
B_DATA = np.block([[parse(B_TL), parse(B_TR)], [parse(B_BL), parse(B_BR)]])

panel(A_DATA, 234, 277, 1271, 1314, A_VMAX, A_TICKS, A_TICKLABELS, 0.007,
      "A - Fiber density", (703, 75), 1324, 1358, True, (179, 175), 1293, (760, 1347))
panel(B_DATA, 1442, 279, 2479, 1316, B_VMAX, B_TICKS, B_TICKLABELS, 0.012,
      "B - Fractional anisotropy", (1960, 80), 2531, 2565, False, (183, 179), 2503, (1958, 1349))

# Exponent of the left colour bar
ov.text(1382, 254, "\u00d710", family=SANS, weight="bold", fontsize=24, ha="center", va="center", color="black")
ov.text(1420, 243, "-3", family=SANS, weight="bold", fontsize=15, ha="center", va="center", color="black")

# Fragment of the caption above, clipped by the top of the image
ov.text(28, 11, "88 %.", family=SANS, fontsize=56, ha="left", va="baseline", color="black", clip_on=True)

fig.savefig("out.png", dpi=100, facecolor="white")
